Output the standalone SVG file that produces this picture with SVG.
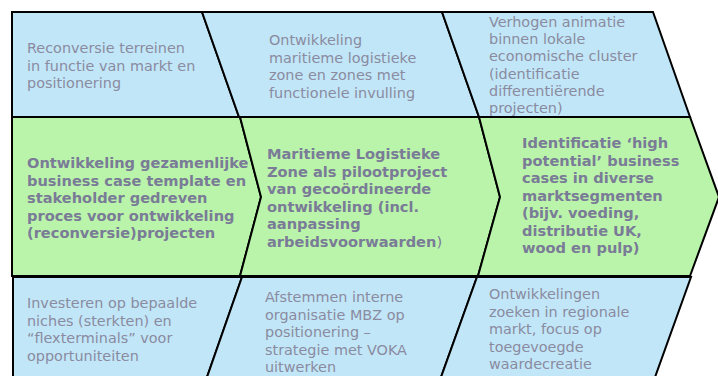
<svg xmlns="http://www.w3.org/2000/svg" width="718" height="376" viewBox="0 0 718 376">
<style>
.b{fill:#c1e6f8;stroke:#000;stroke-width:2;stroke-linejoin:miter}
.g{fill:#b9f4aa;stroke:#000;stroke-width:2;stroke-linejoin:miter}
.t{font-family:"DejaVu Sans",Verdana,sans-serif;font-size:14.4px;fill:#8a8ba0}
.m{font-family:"DejaVu Sans",Verdana,sans-serif;font-size:14.6px;font-weight:bold;fill:#7a7b97}
.n{font-weight:normal}
</style>
<rect width="718" height="376" fill="#ffffff"/>
<g id="top1">
<polygon class="b" points="12,12 202,12 239,117 12,117"/>
<text class="t"><tspan x="27" y="53">Reconversie terreinen</tspan><tspan x="27" y="70.5">in functie van markt en</tspan><tspan x="27" y="88">positionering</tspan></text>
</g>
<g id="top2">
<polygon class="b" points="202,12 442,12 479,117 239,117"/>
<text class="t"><tspan x="269" y="45">Ontwikkeling</tspan><tspan x="269" y="62.5">maritieme logistieke</tspan><tspan x="269" y="80">zone en zones met</tspan><tspan x="269" y="97.5">functionele invulling</tspan></text>
</g>
<g id="top3">
<polygon class="b" points="442,12 653,12 690,117 479,117"/>
<text class="t"><tspan x="489" y="27">Verhogen animatie</tspan><tspan x="489" y="44.2">binnen lokale</tspan><tspan x="489" y="61.4">economische cluster</tspan><tspan x="489" y="78.6">(identificatie</tspan><tspan x="489" y="95.8">differentiërende</tspan><tspan x="489" y="113">projecten)</tspan></text>
</g>
<g id="mid1">
<polygon class="g" points="12,117 240,117 261,197 240,276 12,276"/>
<text class="m"><tspan x="27" y="168">Ontwikkeling gezamenlijke</tspan><tspan x="27" y="185.5">business case template en</tspan><tspan x="27" y="203">stakeholder gedreven</tspan><tspan x="27" y="220.5">proces voor ontwikkeling</tspan><tspan x="27" y="238">(reconversie)projecten</tspan></text>
</g>
<g id="mid2">
<polygon class="g" points="240,117 479,117 500,197 478,276 240,276 261,197"/>
<text class="m"><tspan x="267" y="159">Maritieme Logistieke</tspan><tspan x="267" y="176.5">Zone als pilootproject</tspan><tspan x="267" y="194">van gecoördineerde</tspan><tspan x="267" y="211.5">ontwikkeling (incl.</tspan><tspan x="267" y="229">aanpassing</tspan><tspan x="267" y="246.5">arbeidsvoorwaarden<tspan class="n">)</tspan></tspan></text>
</g>
<g id="mid3">
<polygon class="g" points="479,117 690,117 719,197 690,276 478,276 500,197"/>
<text class="m"><tspan x="522" y="148">Identificatie ‘high</tspan><tspan x="522" y="165.5">potential’ business</tspan><tspan x="522" y="183">cases in diverse</tspan><tspan x="522" y="200.5">marktsegmenten</tspan><tspan x="522" y="218">(bijv. voeding,</tspan><tspan x="522" y="235.5">distributie UK,</tspan><tspan x="522" y="253">wood en pulp)</tspan></text>
</g>
<g id="bot1">
<polygon class="b" points="13,277 242,277 206,380 13,380"/>
<text class="t"><tspan x="27" y="308">Investeren op bepaalde</tspan><tspan x="27" y="325.5">niches (sterkten) en</tspan><tspan x="27" y="343">“flexterminals” voor</tspan><tspan x="27" y="360.5">opportuniteiten</tspan></text>
</g>
<g id="bot2">
<polygon class="b" points="242,277 477,277 440,380 206,380"/>
<text class="t"><tspan x="265" y="302">Afstemmen interne</tspan><tspan x="265" y="319.5">organisatie MBZ op</tspan><tspan x="265" y="337">positionering –</tspan><tspan x="265" y="354.5">strategie met VOKA</tspan><tspan x="265" y="372">uitwerken</tspan></text>
</g>
<g id="bot3">
<polygon class="b" points="477,277 691,277 654,380 440,380"/>
<text class="t"><tspan x="489" y="299">Ontwikkelingen</tspan><tspan x="489" y="316.5">zoeken in regionale</tspan><tspan x="489" y="334">markt, focus op</tspan><tspan x="489" y="351.5">toegevoegde</tspan><tspan x="489" y="369">waardecreatie</tspan></text>
</g>
</svg>
